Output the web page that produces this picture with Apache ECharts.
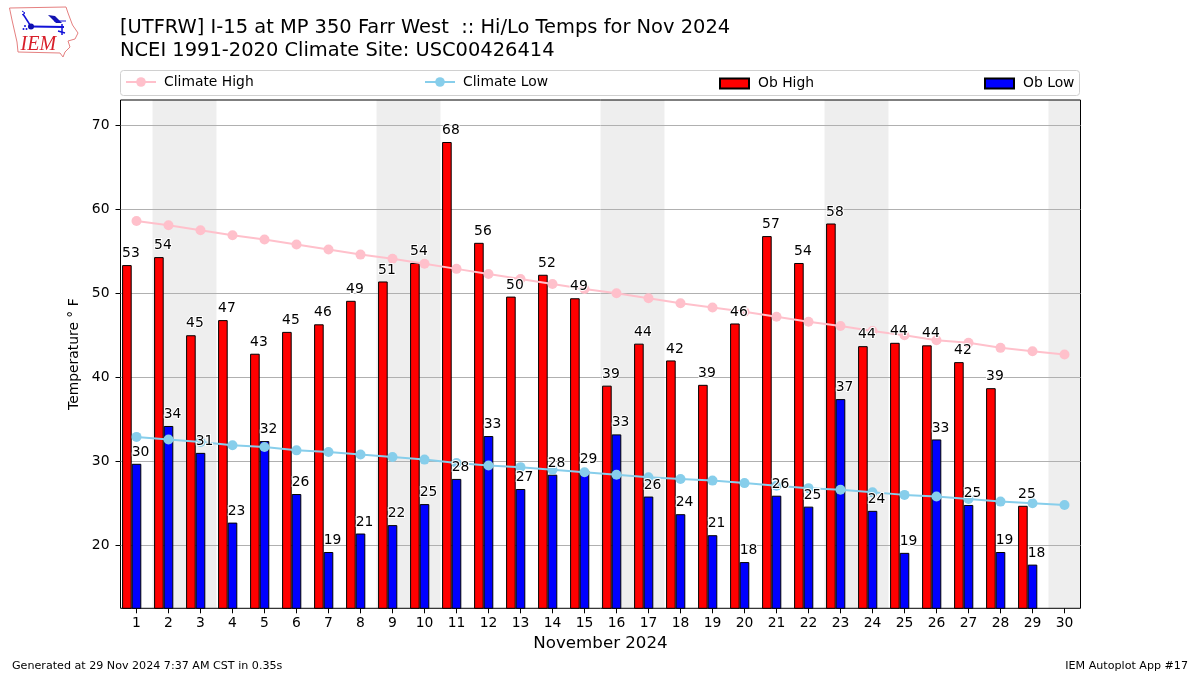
<!DOCTYPE html>
<html>
<head>
<meta charset="utf-8">
<style>html,body{margin:0;padding:0;background:#fff}#c{width:1200px;height:675px}</style>
<script src="https://cdn.jsdelivr.net/npm/echarts@6/dist/echarts.min.js"></script>
</head>
<body>
<div id="c"></div>
<script>
const days = [];
for (let d = 1; d <= 30; d++) days.push(String(d));
const weekendDays = [2, 3, 9, 10, 16, 17, 23, 24, 30];
const climateHigh = [58.6,58.1,57.5,56.9,56.4,55.8,55.2,54.6,54.1,53.5,52.9,52.3,51.7,51.1,50.5,50.0,49.4,48.8,48.3,47.8,47.2,46.6,46.1,45.5,45.0,44.4,44.1,43.5,43.1,42.7];
const climateLow = [32.9,32.6,32.3,31.9,31.7,31.3,31.1,30.8,30.5,30.2,29.8,29.5,29.3,29.0,28.7,28.4,28.1,27.9,27.7,27.4,27.1,26.8,26.6,26.3,26.0,25.8,25.5,25.2,25.0,24.8];
const obHigh = [53.35,54.3,45.0,46.8,42.8,45.4,46.3,49.1,51.4,53.6,68.0,56.0,49.6,52.2,49.4,39.0,44.0,42.0,39.1,46.4,56.8,53.6,58.3,43.7,44.1,43.8,41.8,38.7,24.7,null];
const obLow = [29.7,34.2,31.0,22.7,32.4,26.1,19.2,21.4,22.4,24.9,27.9,33.0,26.7,28.4,28.9,33.2,25.8,23.7,21.2,18.0,25.9,24.6,37.4,24.1,19.1,32.6,24.8,19.2,17.7,null];
const yTicks = [20, 30, 40, 50, 60, 70];

const FONT = '"DejaVu Sans"';
const chart = echarts.init(document.getElementById('c'), null, {renderer: 'canvas'});

const bandColors = days.map(d => weekendDays.includes(+d) ? '#eeeeee' : 'rgba(0,0,0,0)');
const barBase = {type: 'bar', barWidth: 9.6, barGap: '0%'};
const labelCarrier = (name, data) => ({
  ...barBase, name, data, xAxisIndex: 1, z: 6, silent: true,
  itemStyle: {color: 'rgba(0,0,0,0)', borderWidth: 0},
  label: {
    show: true, position: 'top', distance: 4.5, offset: [4, 0],
    formatter: p => String(Math.round(p.value)),
    fontFamily: FONT, fontSize: 13.89, color: '#000',
    textBorderColor: '#fff', textBorderWidth: 2
  }
});
const legendAt = (left, name, top, w, h, icon, pad) => ({
  left, top, data: [icon ? {name, icon} : name], orient: 'horizontal', padding: 0,
  itemWidth: w, itemHeight: h, itemGap: 0, selectedMode: false,
  textStyle: {fontFamily: FONT, fontSize: 13.89, color: '#000', padding: [0, 0, 0, pad]}
});

const logo = [
  {type: 'polygon', shape: {points: [[9.5,8],[66,7],[68,13],[72.5,25],[78,33],[75,39],[68,41],[70,47],[65,52],[63,57],[60,53],[18,52],[17,42],[12,20]]},
    style: {fill: '#fff', stroke: '#e58080', lineWidth: 1}},
  {type: 'polyline', shape: {points: [[31,26.5],[64,27]]}, style: {stroke: '#1212d8', lineWidth: 2, fill: 'none'}},
  {type: 'polyline', shape: {points: [[31,26.5],[23,14]]}, style: {stroke: '#1212d8', lineWidth: 1.5, fill: 'none'}},
  {type: 'polyline', shape: {points: [[22,11],[25,13],[22,15]]}, style: {stroke: '#1212d8', lineWidth: 1, fill: 'none'}},
  {type: 'circle', shape: {cx: 31, cy: 26.5, r: 3}, style: {fill: '#0f0fb0'}},
  {type: 'polygon', shape: {points: [[48,15],[55,16],[62,23],[56,23]]}, style: {fill: '#1212b0'}},
  {type: 'polyline', shape: {points: [[54,21],[66,21]]}, style: {stroke: '#1212d8', lineWidth: 1, fill: 'none'}},
  {type: 'polyline', shape: {points: [[62,24],[62,35]]}, style: {stroke: '#1212d8', lineWidth: 1.5, fill: 'none'}},
  {type: 'polyline', shape: {points: [[58,31],[65,33]]}, style: {stroke: '#1212d8', lineWidth: 1.5, fill: 'none'}},
  {type: 'circle', shape: {cx: 25, cy: 26, r: 1}, style: {fill: '#1212d8'}},
  {type: 'circle', shape: {cx: 23.5, cy: 29, r: 1}, style: {fill: '#1212d8'}},
  {type: 'circle', shape: {cx: 26.5, cy: 29, r: 1}, style: {fill: '#1212d8'}},
  {type: 'text', x: 20.5, y: 35, style: {text: 'IEM', font: 'italic 20px "Liberation Serif"', fill: '#d81f2a'}}
];

chart.setOption({
  animation: false,
  backgroundColor: '#fff',
  title: [
    {text: '[UTFRW] I-15 at MP 350 Farr West  :: Hi/Lo Temps for Nov 2024\nNCEI 1991-2020 Climate Site: USC00426414',
     left: 120, top: 17, padding: 0,
     textStyle: {fontFamily: FONT, fontSize: 19.44, fontWeight: 'normal', color: '#000', lineHeight: 22.5}},
    {text: 'Generated at 29 Nov 2024 7:37 AM CST in 0.35s', left: 12, top: 661, padding: 0,
     textStyle: {fontFamily: FONT, fontSize: 11.11, fontWeight: 'normal', color: '#000'}},
    {text: 'IEM Autoplot App #17', right: 12, top: 661, padding: 0,
     textStyle: {fontFamily: FONT, fontSize: 11.11, fontWeight: 'normal', color: '#000'}}
  ],
  legend: [
    legendAt(125, 'Climate High', 75, 30, 12, null, 3),
    legendAt(424, 'Climate Low', 75, 30, 12, null, 3),
    legendAt(719, 'Ob High', 76.5, 29, 10, 'rect', 4),
    legendAt(984, 'Ob Low', 76.5, 29, 10, 'rect', 4)
  ],
  grid: {left: 120.5, top: 100, width: 960, height: 508.3, show: true, borderColor: '#000', borderWidth: 1, backgroundColor: 'rgba(0,0,0,0)'},
  xAxis: [
    {type: 'category', data: days, boundaryGap: true, z: -1,
     name: 'November 2024', nameLocation: 'middle', nameGap: 27,
     nameTextStyle: {fontFamily: FONT, fontSize: 16.67, color: '#000'},
     axisLine: {show: false},
     axisTick: {show: true, alignWithLabel: true, length: 5, lineStyle: {color: '#000'}},
     axisLabel: {interval: 0, fontFamily: FONT, fontSize: 13.89, color: '#000', margin: 8},
     splitLine: {show: false},
     splitArea: {show: true, interval: 0, areaStyle: {color: bandColors}}},
    {type: 'category', data: days, show: false, boundaryGap: true}
  ],
  yAxis: {
    type: 'value', min: 12.5, max: 73, z: 1,
    name: 'Temperature ° F', nameLocation: 'middle', nameGap: 35, nameRotate: 90,
    nameTextStyle: {fontFamily: FONT, fontSize: 13.89, color: '#000'},
    axisLine: {show: false},
    axisTick: {show: true, length: 5, lineStyle: {color: '#000'}, customValues: yTicks},
    axisLabel: {fontFamily: FONT, fontSize: 13.89, color: '#000', margin: 11, customValues: yTicks},
    splitLine: {show: true, lineStyle: {color: '#b0b0b0', width: 1}}
  },
  series: [
    {...barBase, name: 'Ob High', data: obHigh, z: 2, itemStyle: {color: '#ff0000', borderColor: '#000', borderWidth: 1}},
    {...barBase, name: 'Ob Low', data: obLow, z: 2, itemStyle: {color: '#0000ff', borderColor: '#000', borderWidth: 1}},
    {...barBase, name: 'spacer', data: [], z: 2},
    {type: 'line', name: 'Climate High', data: climateHigh, z: 4, symbol: 'circle', symbolSize: 10,
     lineStyle: {color: '#ffc0cb', width: 2}, itemStyle: {color: '#ffc0cb'}},
    {type: 'line', name: 'Climate Low', data: climateLow, z: 4, symbol: 'circle', symbolSize: 10,
     lineStyle: {color: '#87ceeb', width: 2}, itemStyle: {color: '#87ceeb'}},
    labelCarrier('Ob High labels', obHigh),
    labelCarrier('Ob Low labels', obLow),
    {...barBase, name: 'label spacer', data: [], xAxisIndex: 1, z: 6}
  ],
  graphic: [
    {type: 'rect', shape: {x: 120.5, y: 70.5, width: 959, height: 25, r: 3}, style: {fill: 'rgba(255,255,255,0)', stroke: '#d0d0d0', lineWidth: 1}, z: -1},
    ...logo
  ]
});
</script>
</body>
</html>
